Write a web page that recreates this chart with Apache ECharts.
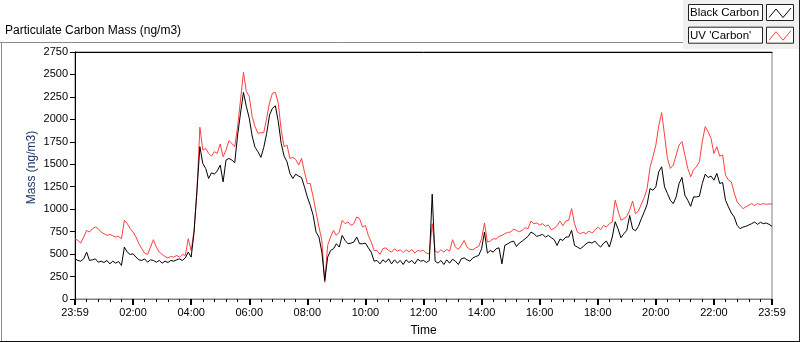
<!DOCTYPE html>
<html>
<head>
<meta charset="utf-8">
<script src="https://cdn.jsdelivr.net/npm/echarts@6/dist/echarts.min.js"></script>
<style>
html,body{margin:0;padding:0;background:#fff;}
#chart{width:800px;height:342px;}
</style>
</head>
<body>
<div id="chart"></div>
<script>
// Sampling: one reading every 6 minutes, from 23:59 (minute 0) to 23:59 (minute 1440)
var sampleStepMinutes = 6;
var seriesNames = ['Black Carbon', "UV 'Carbon'"];
var xTickLabels = ['23:59','02:00','04:00','06:00','08:00','10:00','12:00','14:00','16:00','18:00','20:00','22:00','23:59'];
var yTicks = [0,250,500,750,1000,1250,1500,1750,2000,2250,2500,2750];

var uvCarbon = [
671,652,622,690,764,745,783,801,783,745,
727,708,719,704,690,697,671,876,839,783,
745,690,615,559,511,496,578,660,578,522,
496,473,458,473,466,485,466,496,485,671,
540,764,1211,1912,1658,1677,1621,1591,1640,1621,
1726,1584,1658,1763,1733,1696,1919,2218,2523,2311,
2255,2031,1919,1845,1852,1852,2013,2188,2292,2300,
2180,1882,1696,1714,1565,1576,1554,1491,1565,1416,
1286,1286,1137,969,801,652,186,596,690,764,
708,745,876,839,857,820,839,913,894,801,
820,708,634,540,540,496,559,570,540,522,
559,533,548,518,548,526,552,511,540,533,
540,511,503,839,533,518,548,522,552,533,
660,578,552,596,652,578,552,548,570,585,
671,846,634,645,671,667,697,708,727,742,
745,779,764,749,764,794,783,868,839,846,
824,839,809,824,772,786,816,868,816,868,
876,1006,839,745,727,742,727,757,734,764,
801,772,820,801,839,857,1100,980,876,894,
921,990,1090,950,980,1055,1129,1230,1465,1584,
1714,1927,2075,1826,1565,1454,1491,1603,1714,1752,
1603,1454,1360,1442,1472,1528,1752,1919,1863,1789,
1621,1696,1591,1603,1379,1323,1304,1181,1081,1044,
1006,1025,1044,1062,1040,1062,1051,1062,1055,1059,
1055
];

var blackCarbon = [
447,429,421,447,522,429,436,447,410,421,
406,429,391,421,399,417,373,578,522,496,
503,466,436,429,447,410,436,429,410,429,
399,421,406,429,421,436,447,429,458,522,
466,745,1211,1696,1509,1453,1342,1405,1390,1427,
1491,1304,1547,1565,1547,1517,1826,2069,2300,2143,
2013,1815,1688,1640,1577,1688,1845,2050,2124,2150,
1975,1733,1591,1528,1398,1342,1390,1368,1353,1249,
1137,1044,932,745,690,522,205,466,540,559,
615,578,708,652,615,622,634,690,615,615,
622,570,522,421,429,391,436,410,447,391,
436,399,429,384,436,406,429,391,443,421,
429,406,429,1167,421,399,429,384,436,399,
443,421,384,447,458,436,421,458,473,485,
559,745,511,540,522,559,570,391,596,615,
634,645,585,622,645,671,697,745,727,697,
708,719,690,708,682,660,596,667,652,690,
690,764,596,578,559,585,615,634,622,645,
607,578,622,645,578,690,860,780,682,727,
764,930,780,760,809,894,969,1055,1230,1211,
1249,1416,1472,1249,1174,1099,1062,1137,1286,1353,
1156,1099,1032,1137,1137,1144,1286,1390,1353,1368,
1323,1398,1286,1297,1099,1025,958,913,820,783,
801,809,824,839,857,831,854,839,846,831,
809
];

var times = blackCarbon.map(function(_, i){ return i * sampleStepMinutes; });
var blackData = times.map(function(t, i){ return [t, blackCarbon[i]]; });
var uvData = times.map(function(t, i){ return [t, uvCarbon[i]]; });

var FONT = 'Liberation Sans, Arial, sans-serif';
var chart = echarts.init(document.getElementById('chart'), null, {renderer:'canvas'});

function legendRow(y, name, color) {
  return [
    {type:'rect', shape:{x:688.5, y:y+0.5, width:74, height:16}, style:{fill:'#fff', stroke:'#222', lineWidth:1}, z:10},
    {type:'text', x:690, y:y+9, style:{text:name, font:'11.5px ' + FONT, fill:'#000', verticalAlign:'middle', align:'left'}, z:11},
    {type:'rect', shape:{x:766.5, y:y+0.5, width:27, height:16}, style:{fill:'#fff', stroke:'#222', lineWidth:1}, z:10},
    {type:'polyline', shape:{points:[[769,y+13.5],[776,y+5],[783,y+13.5],[791,y+4]]}, style:{stroke:color, lineWidth:1, fill:null}, z:11}
  ];
}

var graphics = [
  {type:'line', shape:{x1:0, y1:42.5, x2:683, y2:42.5}, style:{stroke:'#8a8a8a', lineWidth:1}, z:5},
  {type:'line', shape:{x1:1.5, y1:42, x2:1.5, y2:342}, style:{stroke:'#8a8a8a', lineWidth:1}, z:5},
  {type:'line', shape:{x1:0, y1:341.5, x2:800, y2:341.5}, style:{stroke:'#111', lineWidth:1}, z:5},
  {type:'rect', shape:{x:683, y:0, width:116, height:49}, style:{fill:'#f0f0f0'}, z:4},
  {type:'line', shape:{x1:799.5, y1:0, x2:799.5, y2:342}, style:{stroke:'#222', lineWidth:1}, z:5}
].concat(legendRow(4, seriesNames[0], '#000'), legendRow(26.7, seriesNames[1], '#ff4040'));

chart.setOption({
  animation:false,
  backgroundColor:'#fff',
  title:{text:'Particulate Carbon Mass (ng/m3)', left:5, top:25, padding:0,
    textStyle:{fontSize:12, fontWeight:'normal', color:'#000', fontFamily:FONT}},
  grid:{left:75, right:28, top:52, bottom:43, show:true, borderColor:'#808080', borderWidth:1, backgroundColor:'#fff'},
  xAxis:[{
    type:'value', min:0, max:1440, interval:120,
    name:'Time', nameLocation:'middle', nameGap:26, nameMoveOverlap:false,
    nameTextStyle:{fontSize:12, color:'#000', fontFamily:FONT},
    axisLine:{show:true, lineStyle:{color:'#808080', width:1}},
    axisTick:{show:true, length:6, lineStyle:{color:'#000', width:2}},
    minorTick:{show:true, splitNumber:5, length:3, lineStyle:{color:'#000', width:1}},
    splitLine:{show:false},
    axisLabel:{margin:8, fontSize:11, color:'#000', fontFamily:FONT, showMinLabel:true, showMaxLabel:true,
      formatter:function(v){ return xTickLabels[Math.round(v/120)]; }}
  },{
    type:'value', min:0, max:1440, position:'top',
    axisLine:{show:true, lineStyle:{color:'#000', width:1}},
    axisTick:{show:false}, axisLabel:{show:false}, splitLine:{show:false}
  }],
  yAxis:{
    type:'value', min:yTicks[0], max:yTicks[yTicks.length-1], interval:250,
    name:'Mass (ng/m3)', nameLocation:'middle', nameGap:37, nameMoveOverlap:false,
    nameTextStyle:{fontSize:12, color:'#1a3866', fontFamily:FONT, padding:[0,0,0,16]},
    axisLine:{show:true, lineStyle:{color:'#000', width:1}},
    axisTick:{show:true, length:5, lineStyle:{color:'#000', width:1}},
    splitLine:{show:false},
    axisLabel:{margin:7, fontSize:11, color:'#000', fontFamily:FONT,
      formatter:function(v){ return String(v); }}
  },
  series:[
    {name:seriesNames[1], type:'line', data:uvData, showSymbol:false, symbol:'none',
      lineStyle:{color:'#ff4040', width:1}, itemStyle:{color:'#ff4040'}, z:2},
    {name:seriesNames[0], type:'line', data:blackData, showSymbol:false, symbol:'none',
      lineStyle:{color:'#000', width:1}, itemStyle:{color:'#000'}, z:3}
  ],
  graphic:graphics
});
</script>
</body>
</html>
